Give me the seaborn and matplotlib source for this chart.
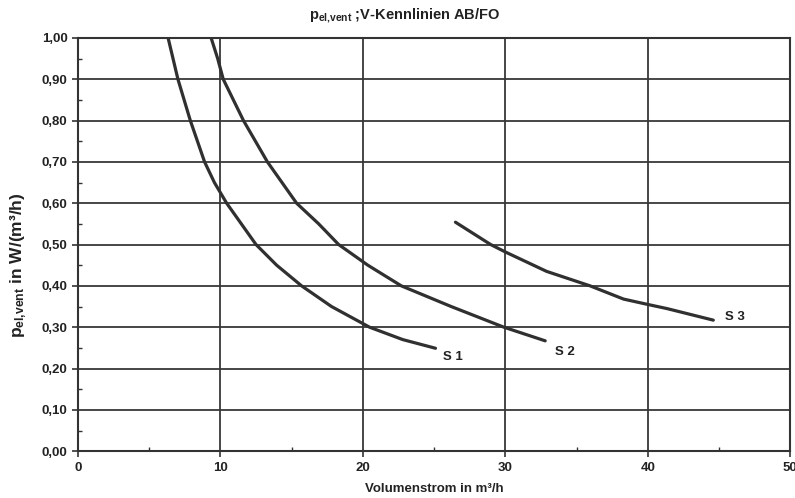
import pandas as pd
import seaborn as sns
import matplotlib.pyplot as plt
from matplotlib.ticker import MultipleLocator, FuncFormatter

# values
s1_x = [6.33, 7.02, 7.89, 8.89, 9.58, 10.44, 12.5, 13.95, 15.7, 17.8, 20.47, 22.8, 25.1]
s1_y = [1.00, 0.90, 0.80, 0.70, 0.65, 0.60, 0.50, 0.45, 0.40, 0.35, 0.30, 0.27, 0.249]
s2_x = [9.35, 9.81, 10.2, 11.62, 13.3, 15.35, 16.9, 18.3, 20.35, 22.7, 26.2, 29.9, 32.8]
s2_y = [1.00, 0.95, 0.90, 0.80, 0.70, 0.60, 0.55, 0.50, 0.45, 0.40, 0.35, 0.30, 0.267]
s3_x = [26.5, 28.97, 30.0, 32.9, 35.95, 38.3, 40.0, 41.35, 44.6]
s3_y = [0.554, 0.50, 0.482, 0.435, 0.40, 0.368, 0.355, 0.345, 0.317]

curve_names = ['S 1', 'S 2', 'S 3']
label_x = [26.3, 34.2, 46.1]
label_y = [0.229, 0.241, 0.325]


def make_frame():
    rows = []
    for name, xs, ys in zip(curve_names, [s1_x, s2_x, s3_x], [s1_y, s2_y, s3_y]):
        for x, y in zip(xs, ys):
            rows.append({'kurve': name, 'volumenstrom': x, 'leistung': y})
    return pd.DataFrame(rows)


def main():
    sns.set_style('ticks')
    plt.rcParams['font.family'] = ['Liberation Sans', 'DejaVu Sans']
    plt.rcParams['font.weight'] = 'bold'
    plt.rcParams['mathtext.fontset'] = 'custom'
    plt.rcParams['mathtext.rm'] = 'Liberation Sans:bold'
    plt.rcParams['mathtext.it'] = 'Liberation Sans:bold'
    plt.rcParams['mathtext.bf'] = 'Liberation Sans:bold'

    df = make_frame()
    fig = plt.figure(figsize=(7.95, 4.98), dpi=100)
    ax = fig.add_axes([0.098, 0.094, 0.896, 0.83])

    sns.lineplot(data=df, x='volumenstrom', y='leistung', units='kurve',
                 estimator=None, sort=False, color='#303030', linewidth=2.3, ax=ax)

    for name, x, y in zip(curve_names, label_x, label_y):
        ax.text(x, y, name, ha='center', va='center', fontsize=9.5,
                fontweight='bold', color='#222222')

    ax.set_xlim(0, 50)
    ax.set_ylim(0, 1.0)
    ax.xaxis.set_major_locator(MultipleLocator(10))
    ax.xaxis.set_minor_locator(MultipleLocator(5))
    ax.yaxis.set_major_locator(MultipleLocator(0.1))
    ax.yaxis.set_minor_locator(MultipleLocator(0.05))
    ax.yaxis.set_major_formatter(FuncFormatter(lambda v, p: f'{v:.2f}'.replace('.', ',')))
    ax.xaxis.set_major_formatter(FuncFormatter(lambda v, p: f'{v:.0f}'))

    ax.grid(which='major', color='#383838', linewidth=1.3)
    ax.set_axisbelow(True)
    for side in ['left', 'right', 'top', 'bottom']:
        ax.spines[side].set_visible(True)
        ax.spines[side].set_color('#333333')
        ax.spines[side].set_linewidth(1.5)

    ax.tick_params(which='major', direction='out', length=4, width=1.2,
                   colors='#333333', labelcolor='#222222', labelsize=9.5)
    ax.tick_params(which='minor', direction='in', length=3, width=1,
                   colors='#333333')
    for lab in ax.get_xticklabels() + ax.get_yticklabels():
        lab.set_fontweight('bold')

    fig.text(0.509, 0.968, r'$\mathrm{p_{el{,}vent}}$ ;V-Kennlinien AB/FO',
             ha='center', va='center', fontsize=10.5, fontweight='bold',
             color='#222222')
    ax.set_xlabel('Volumenstrom in m³/h', fontsize=9.5, fontweight='bold',
                  color='#222222', labelpad=7)
    ax.set_ylabel(r'$\mathrm{p_{el{,}vent}}$ in W/(m³/h)', fontsize=12.5,
                  fontweight='bold', color='#222222')
    ax.yaxis.set_label_coords(-0.068, 0.45)

    plt.savefig('out.png', dpi=100)


if __name__ == '__main__':
    main()
